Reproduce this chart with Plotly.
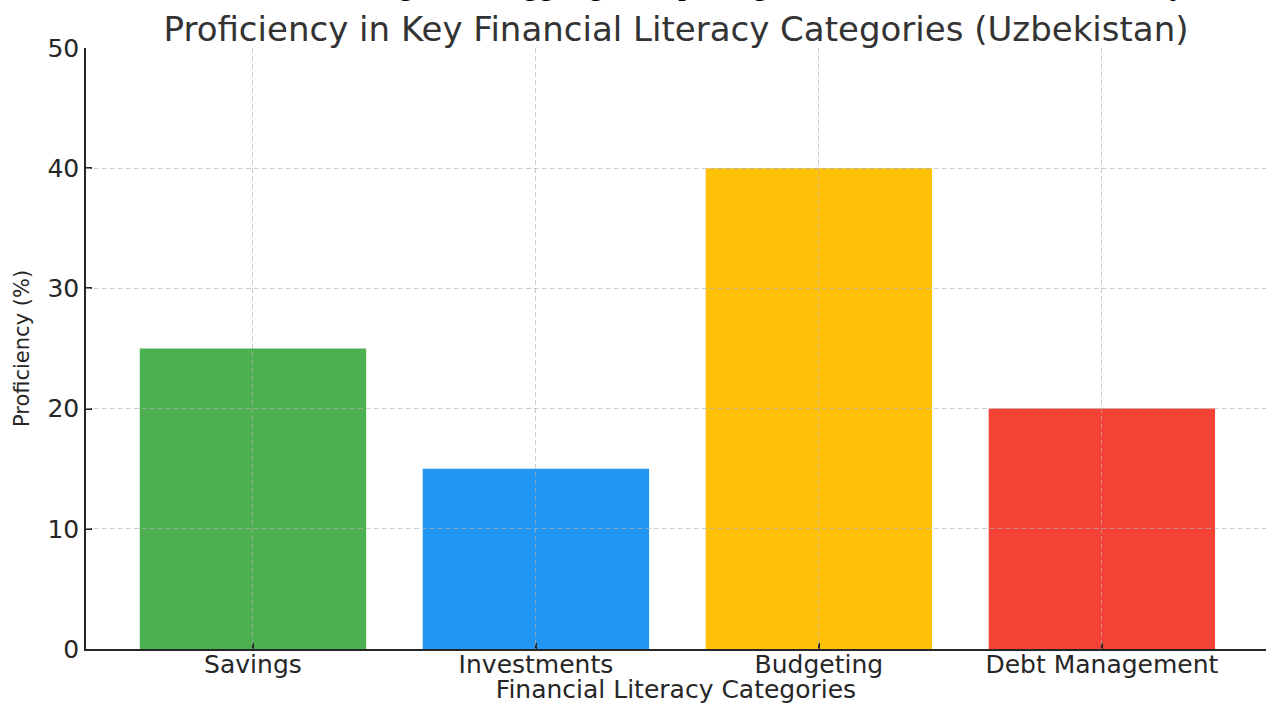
import plotly.graph_objects as go

categories = ["Savings", "Investments", "Budgeting", "Debt Management"]
proficiency = [25, 15, 40, 20]
bar_colors = ["#4CAF50", "#2196F3", "#FFC107", "#F44336"]
y_ticks = [0, 10, 20, 30, 40, 50]
title_line1 = "Bar Chart Showing the Struggling Groups' Digital Skills and Financial Literacy"
title_line2 = "Proficiency in Key Financial Literacy Categories (Uzbekistan)"

text_col = "#262626"
grid_col = "rgba(176,176,176,0.65)"

fig = go.Figure()
fig.add_trace(go.Bar(x=list(range(len(categories))), y=proficiency,
                     marker=dict(color=bar_colors, line=dict(width=0)),
                     width=0.8, xaxis="x", yaxis="y", showlegend=False))
# empty trace on a second subplot used only to draw the grid above the bars
fig.add_trace(go.Scatter(x=[], y=[], xaxis="x2", yaxis="y2", showlegend=False,
                         hoverinfo="skip"))

xr = [-0.59, 3.58]
yr = [0, 50]

fig.update_layout(
    width=1266, height=704,
    margin=dict(l=86, r=0, t=48, b=55, autoexpand=False),
    paper_bgcolor="white", plot_bgcolor="rgba(0,0,0,0)",
    font=dict(family="DejaVu Sans", color=text_col),
    title=dict(text=title_line2, x=0.5, xref="paper", xanchor="center",
               y=1 - 41 / 704, yref="container", yanchor="bottom",
               font=dict(family="DejaVu Sans", size=34, color="#333333")),
    xaxis=dict(domain=[0, 1], anchor="y", range=xr,
               tickmode="array", tickvals=list(range(len(categories))), ticktext=categories,
               ticks="inside", ticklen=6, tickwidth=1.5, tickcolor=text_col,
               showline=True, linecolor=text_col, linewidth=1.6,
               showgrid=False, zeroline=False, layer="above traces",
               tickfont=dict(size=25, color=text_col), ticklabelstandoff=-8,
               title=dict(text="Financial Literacy Categories", standoff=9,
                          font=dict(size=25, color=text_col))),
    yaxis=dict(domain=[0, 1], anchor="x", range=yr,
               tickmode="array", tickvals=y_ticks,
               ticks="inside", ticklen=6, tickwidth=1.5, tickcolor=text_col,
               showline=True, linecolor=text_col, linewidth=1.6,
               showgrid=False, zeroline=False, layer="above traces",
               tickfont=dict(size=25, color=text_col), ticklabelstandoff=0,
               title=dict(text="Proficiency (%)", standoff=12,
                          font=dict(size=21, color=text_col))),
    xaxis2=dict(domain=[0, 1], anchor="y2", range=xr,
                tickmode="array", tickvals=list(range(len(categories))),
                showticklabels=False, ticks="", showline=False, zeroline=False,
                showgrid=True, gridcolor=grid_col, gridwidth=1, griddash="5px,3px"),
    yaxis2=dict(domain=[0, 1], anchor="x2", range=yr,
                tickmode="array", tickvals=y_ticks[1:],
                showticklabels=False, ticks="", showline=False, zeroline=False,
                showgrid=True, gridcolor=grid_col, gridwidth=1, griddash="5px,3px"),
    annotations=[dict(text=title_line1, x=0.5, xref="paper", xanchor="center",
                      y=(649 - 3) / 601, yref="paper", yanchor="bottom",
                      showarrow=False,
                      font=dict(family="Liberation Serif", size=32, color="#000000"))],
)

fig.write_html("out.html")
